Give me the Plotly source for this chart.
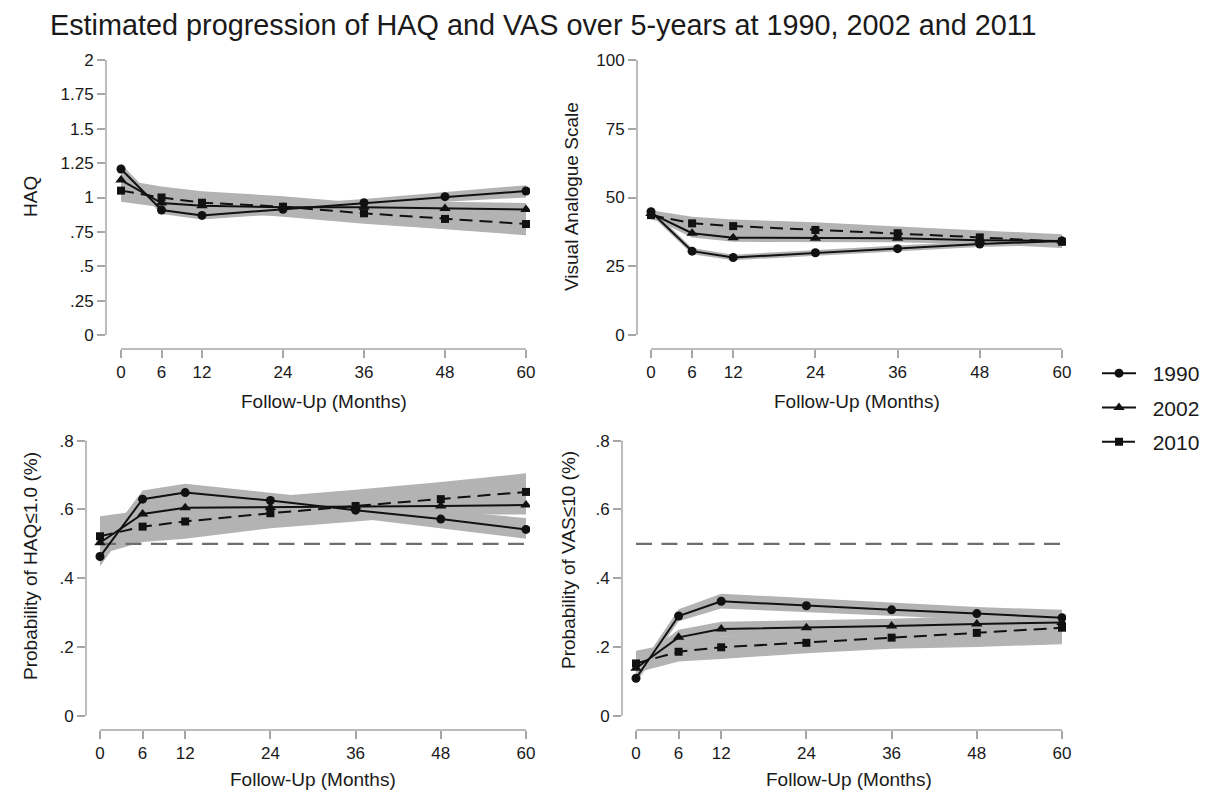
import plotly.graph_objects as go

# ---------------- data ----------------
months = [0, 6, 12, 24, 36, 48, 60]
month_ticks = ["0", "6", "12", "24", "36", "48", "60"]
years = ["1990", "2002", "2010"]

# HAQ (top-left)
haq_1990 = [1.207, 0.909, 0.870, 0.914, 0.962, 1.006, 1.047]
haq_2002 = [1.127, 0.960, 0.940, 0.930, 0.930, 0.920, 0.912]
haq_2010 = [1.050, 1.000, 0.962, 0.933, 0.885, 0.844, 0.807]
haq_1990_lo = [1.170, 0.880, 0.840, 0.880, 0.930, 0.970, 1.000]
haq_1990_hi = [1.245, 0.940, 0.900, 0.950, 0.990, 1.040, 1.090]
haq_2002_lo = [1.080, 0.920, 0.900, 0.890, 0.890, 0.870, 0.860]
haq_2002_hi = [1.180, 1.000, 0.980, 0.970, 0.970, 0.970, 0.960]
haq_2010_lo = [0.970, 0.930, 0.900, 0.860, 0.810, 0.770, 0.725]
haq_2010_hi = [1.130, 1.080, 1.045, 1.010, 0.960, 0.930, 0.890]
haq_ticks = [0, 0.25, 0.5, 0.75, 1, 1.25, 1.5, 1.75, 2]
haq_ticktext = ["0", ".25", ".5", ".75", "1", "1.25", "1.5", "1.75", "2"]

# VAS (top-right)
vas_1990 = [44.8, 30.5, 28.2, 29.9, 31.4, 33.1, 34.2]
vas_2002 = [44.2, 37.0, 35.4, 35.2, 35.2, 34.5, 34.2]
vas_2010 = [43.6, 40.6, 39.6, 38.2, 37.0, 35.5, 33.9]
vas_1990_lo = [43.6, 29.4, 27.2, 28.9, 30.4, 32.0, 32.8]
vas_1990_hi = [46.0, 31.6, 29.2, 30.9, 32.4, 34.2, 35.6]
vas_2002_lo = [42.7, 35.5, 33.9, 33.7, 33.7, 33.0, 32.6]
vas_2002_hi = [45.7, 38.5, 36.9, 36.7, 36.7, 36.0, 35.8]
vas_2010_lo = [42.0, 38.3, 36.8, 35.6, 34.5, 33.0, 31.6]
vas_2010_hi = [45.4, 43.0, 42.0, 41.0, 39.5, 38.0, 36.6]
vas_ticks = [0, 25, 50, 75, 100]
vas_ticktext = ["0", "25", "50", "75", "100"]

# Probability HAQ<=1.0 (bottom-left)
phaq_1990 = [0.463, 0.630, 0.649, 0.626, 0.598, 0.572, 0.542]
phaq_2002 = [0.503, 0.587, 0.605, 0.606, 0.608, 0.610, 0.613]
phaq_2010 = [0.522, 0.550, 0.565, 0.589, 0.610, 0.630, 0.651]
phaq_1990_lo = [0.435, 0.605, 0.625, 0.600, 0.575, 0.545, 0.515]
phaq_1990_hi = [0.490, 0.655, 0.675, 0.648, 0.622, 0.597, 0.575]
phaq_2002_lo = [0.475, 0.560, 0.580, 0.580, 0.585, 0.585, 0.585]
phaq_2002_hi = [0.530, 0.615, 0.630, 0.632, 0.632, 0.638, 0.645]
phaq_2010_lo = [0.470, 0.505, 0.515, 0.545, 0.565, 0.585, 0.595]
phaq_2010_hi = [0.580, 0.597, 0.617, 0.637, 0.657, 0.680, 0.705]

# Probability VAS<=10 (bottom-right)
pvas_1990 = [0.109, 0.290, 0.333, 0.320, 0.308, 0.297, 0.285]
pvas_2002 = [0.138, 0.228, 0.252, 0.256, 0.261, 0.267, 0.271]
pvas_2010 = [0.152, 0.186, 0.199, 0.212, 0.227, 0.241, 0.256]
pvas_1990_lo = [0.095, 0.275, 0.312, 0.300, 0.290, 0.280, 0.265]
pvas_1990_hi = [0.125, 0.310, 0.355, 0.342, 0.327, 0.316, 0.308]
pvas_2002_lo = [0.120, 0.205, 0.230, 0.235, 0.240, 0.245, 0.245]
pvas_2002_hi = [0.160, 0.250, 0.273, 0.277, 0.282, 0.290, 0.296]
pvas_2010_lo = [0.125, 0.158, 0.165, 0.182, 0.195, 0.200, 0.208]
pvas_2010_hi = [0.189, 0.214, 0.230, 0.242, 0.258, 0.278, 0.300]
prob_ticks = [0, 0.2, 0.4, 0.6, 0.8]
prob_ticktext = ["0", ".2", ".4", ".6", ".8"]
threshold = 0.5

title_text = "Estimated progression of HAQ and VAS over 5-years at 1990, 2002 and 2011"
xtitle = "Follow-Up (Months)"

# ---------------- layout geometry (pixels) ----------------
W, H = 1228, 791
FONT = "Liberation Sans, Arial, Helvetica, sans-serif"
BAND = "#b3b3b3"
AX = "#a6a6a6"
TXT = "#1a1a1a"

panels = [
    dict(name="HAQ", ytitle="HAQ",
         series=[haq_1990, haq_2002, haq_2010],
         lo=[haq_1990_lo, haq_2002_lo, haq_2010_lo],
         hi=[haq_1990_hi, haq_2002_hi, haq_2010_hi],
         ticks=haq_ticks, ticktext=haq_ticktext, ref=False,
         box=(106, 530, 58, 349), xpx=(121, 526), ypx=(335, 60),
         ytitle_pos=(30, 197), xtitle_y=401),
    dict(name="VAS", ytitle="Visual Analogue Scale",
         series=[vas_1990, vas_2002, vas_2010],
         lo=[vas_1990_lo, vas_2002_lo, vas_2010_lo],
         hi=[vas_1990_hi, vas_2002_hi, vas_2010_hi],
         ticks=vas_ticks, ticktext=vas_ticktext, ref=False,
         box=(637, 1066, 58, 349), xpx=(651, 1062), ypx=(335, 60),
         ytitle_pos=(571, 197), xtitle_y=401),
    dict(name="PHAQ", ytitle="Probability of HAQ≤1.0 (%)",
         series=[phaq_1990, phaq_2002, phaq_2010],
         lo=[phaq_1990_lo, phaq_2002_lo, phaq_2010_lo],
         hi=[phaq_1990_hi, phaq_2002_hi, phaq_2010_hi],
         ticks=prob_ticks, ticktext=prob_ticktext, ref=True,
         box=(86, 530, 438, 730), xpx=(100, 526), ypx=(715.7, 440.7),
         ytitle_pos=(30, 566), xtitle_y=779),
    dict(name="PVAS", ytitle="Probability of VAS≤10 (%)",
         series=[pvas_1990, pvas_2002, pvas_2010],
         lo=[pvas_1990_lo, pvas_2002_lo, pvas_2010_lo],
         hi=[pvas_1990_hi, pvas_2002_hi, pvas_2010_hi],
         ticks=prob_ticks, ticktext=prob_ticktext, ref=True,
         box=(622, 1066, 438, 730), xpx=(636, 1062), ypx=(715.7, 440.7),
         ytitle_pos=(568, 560), xtitle_y=779),
]

symbols = ["circle", "triangle-up", "square"]
msizes = [9, 10, 8]
dashes = ["solid", "solid", "13px,7px"]
NB = "\u00a0\u00a0"  # small gap between legend symbol and label

fig = go.Figure()
annotations = []
shapes = []

for i, p in enumerate(panels):
    k = "" if i == 0 else str(i + 1)
    xa, ya = "x" + k, "y" + k
    left, right, top, bottom = p["box"]
    x0px, x60px = p["xpx"]
    ylo_px, yhi_px = p["ypx"]
    tmin, tmax = p["ticks"][0], p["ticks"][-1]
    mx = (x60px - x0px) / (months[-1] - months[0])
    my = (ylo_px - yhi_px) / (tmax - tmin)
    xrange = [months[0] - (x0px - left) / mx, months[-1] + (right - x60px) / mx]
    yrange = [tmin - (bottom - ylo_px) / my, tmax + (yhi_px - top) / my]

    # CI bands
    for j in range(3):
        fig.add_trace(go.Scatter(
            x=months + months[::-1], y=p["hi"][j] + p["lo"][j][::-1],
            fill="toself", fillcolor=BAND, line=dict(width=0, color=BAND),
            mode="lines", showlegend=False, hoverinfo="skip",
            xaxis=xa, yaxis=ya))
    # reference line
    if p["ref"]:
        fig.add_trace(go.Scatter(
            x=[months[0], months[-1]], y=[threshold, threshold], mode="lines",
            line=dict(color="#6e6e6e", width=2.2, dash="16px,9.5px"),
            showlegend=False, hoverinfo="skip", xaxis=xa, yaxis=ya))
    # series
    for j in range(3):
        fig.add_trace(go.Scatter(
            x=months, y=p["series"][j], mode="lines+markers", name=NB + years[j],
            line=dict(color="#111111", width=2, dash=dashes[j]),
            marker=dict(symbol=symbols[j], size=msizes[j], color="#111111"),
            legendgroup=years[j], showlegend=(i == 0),
            xaxis=xa, yaxis=ya))

    axis_common = dict(showgrid=False, zeroline=False, showline=False,
                       ticks="outside", ticklen=8, tickwidth=1.5, tickcolor=AX,
                       tickfont=dict(family=FONT, size=17, color=TXT),
                       automargin=False)
    fig.layout["xaxis" + k] = dict(
        domain=[left / W, right / W], range=xrange, anchor=ya,
        tickvals=months, ticktext=month_ticks, **axis_common)
    fig.layout["yaxis" + k] = dict(
        domain=[1 - bottom / H, 1 - top / H], range=yrange, anchor=xa,
        tickvals=p["ticks"], ticktext=p["ticktext"], **axis_common)

    # Stata-style axis lines limited to data extent
    shapes.append(dict(type="line", xref=xa, yref=ya + " domain",
                       x0=months[0], x1=months[-1], y0=0, y1=0,
                       line=dict(color=AX, width=1.5)))
    shapes.append(dict(type="line", xref=xa + " domain", yref=ya,
                       x0=0, x1=0, y0=tmin, y1=tmax,
                       line=dict(color=AX, width=1.5)))

    # axis titles
    tx, ty = p["ytitle_pos"]
    annotations.append(dict(text=p["ytitle"], x=tx / W, y=1 - ty / H,
                            xref="paper", yref="paper", showarrow=False,
                            textangle=-90, xanchor="center", yanchor="middle",
                            font=dict(family=FONT, size=19, color=TXT)))
    annotations.append(dict(text=xtitle, x=(x0px + x60px) / 2 / W,
                            y=1 - p["xtitle_y"] / H, xref="paper", yref="paper",
                            showarrow=False, xanchor="center", yanchor="middle",
                            font=dict(family=FONT, size=19, color=TXT)))

fig.update_layout(
    width=W, height=H,
    margin=dict(l=0, r=0, t=0, b=0),
    paper_bgcolor="white", plot_bgcolor="white",
    title=dict(text=title_text, xref="container", yref="container",
               x=50 / W, y=1 - 25 / H, xanchor="left", yanchor="middle",
               font=dict(family=FONT, size=28.8, color=TXT)),
    legend=dict(x=1097 / W, y=1 - 353 / H, xanchor="left", yanchor="top",
                traceorder="grouped", tracegroupgap=4,
                font=dict(family=FONT, size=21, color=TXT),
                bgcolor="rgba(0,0,0,0)", itemwidth=34),
    shapes=shapes,
    annotations=annotations,
    showlegend=True,
)

fig.write_html("out.html", config={"displayModeBar": False},
               post_script="document.body.style.margin='0';")
